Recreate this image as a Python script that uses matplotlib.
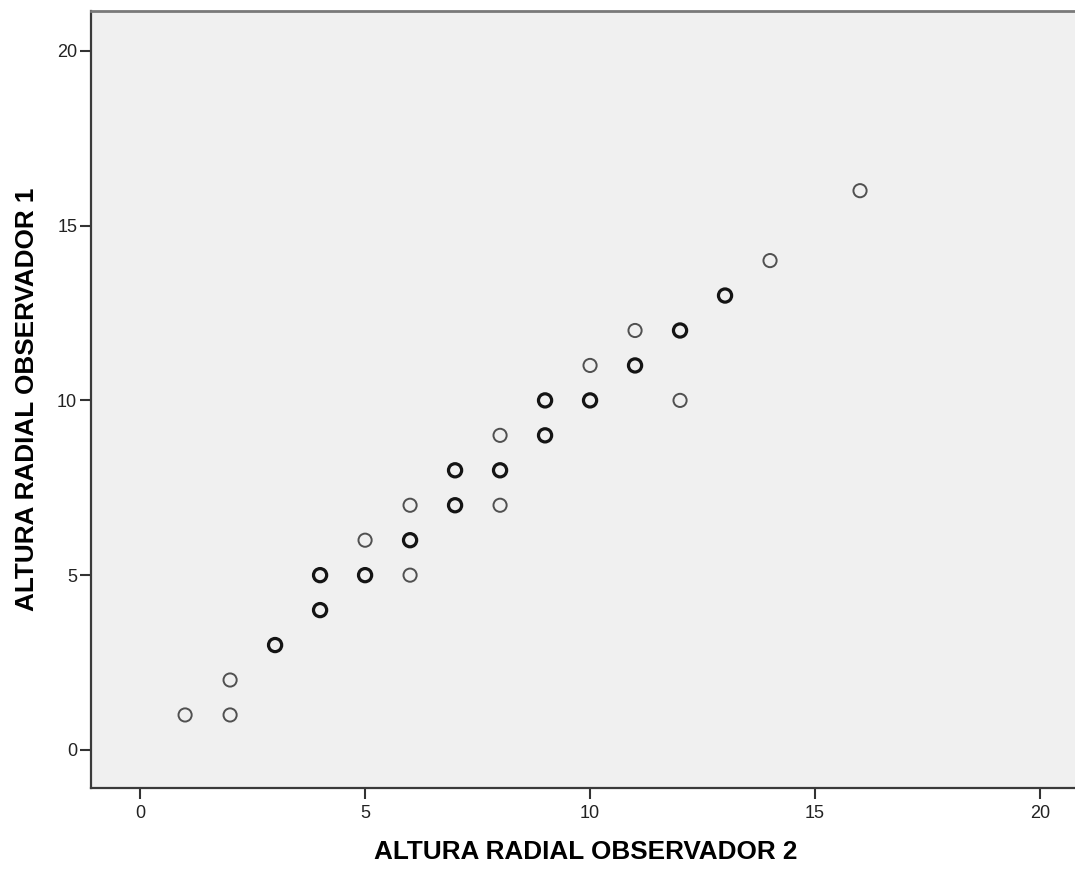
import numpy as np
import matplotlib.pyplot as plt

plt.rcParams['font.family'] = ['Liberation Sans', 'DejaVu Sans']

# observador 2 (x), observador 1 (y), casos repetidos en el mismo punto
obs2 = [1, 2, 2, 3, 4, 4, 5, 5, 6, 6, 6, 7, 7, 8, 8, 8, 9, 9, 10, 10, 11, 11, 12, 12, 13, 14, 16]
obs1 = [1, 2, 1, 3, 5, 4, 6, 5, 7, 6, 5, 8, 7, 9, 8, 7, 10, 9, 11, 10, 12, 11, 12, 10, 13, 14, 16]
reps = [1, 1, 1, 2, 2, 3, 1, 2, 1, 2, 1, 2, 2, 1, 3, 1, 2, 2, 1, 2, 1, 2, 3, 1, 2, 1, 1]

ticks = [0, 5, 10, 15, 20]

reps = np.array(reps)
# los puntos repetidos se ven mas gruesos y oscuros
lw = np.where(reps > 1, 2.3, 1.4)
ec = np.where(reps > 1, '#141414', '#505050')

fig = plt.figure(figsize=(10.75, 8.69), dpi=100)
ax = fig.add_axes([0.0847, 0.0932, 0.92, 0.8941])
ax.set_facecolor('#f0f0f0')

ax.scatter(obs2, obs1, s=90, facecolors='none', edgecolors=list(ec), linewidths=lw, zorder=3)

ax.set_xlim(-1.09, 20.89)
ax.set_ylim(-1.09, 21.14)
ax.set_xticks(ticks)
ax.set_yticks(ticks)
ax.tick_params(axis='both', length=8, width=1.5, color='#333333', labelsize=13, labelcolor='#222222')
ax.tick_params(axis='x', pad=4)
ax.tick_params(axis='y', pad=2)

for side in ['left', 'bottom']:
    ax.spines[side].set_color('#3a3a3a')
    ax.spines[side].set_linewidth(1.6)
ax.spines['top'].set_color('#7a7a7a')
ax.spines['top'].set_linewidth(2)
ax.spines['right'].set_visible(False)

ax.set_xlabel('ALTURA RADIAL OBSERVADOR 2', fontsize=18.8, fontweight='bold', labelpad=13)
ax.set_ylabel('ALTURA RADIAL OBSERVADOR 1', fontsize=18.8, fontweight='bold', labelpad=13)

fig.savefig('out.png', dpi=100)
